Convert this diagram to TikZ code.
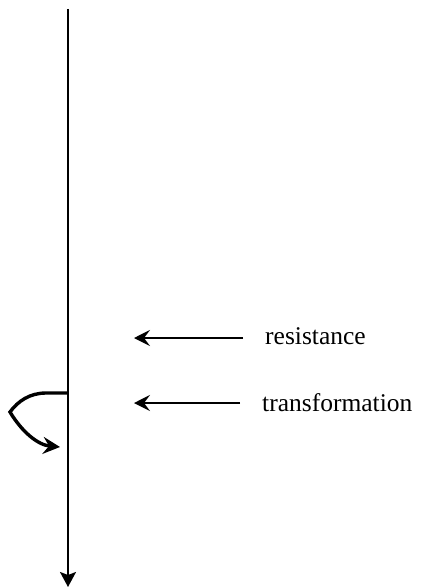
\documentclass[tikz,border=0pt]{standalone}
\usepackage{fontspec}
\setmainfont{Liberation Serif}
\usetikzlibrary{arrows.meta}
\begin{document}
\begin{tikzpicture}[x=1pt,y=-1pt,
  axis/.style={line width=1.9pt,-{Stealth[length=15pt,width=16pt,inset=3pt]}},
  hint/.style={line width=1.8pt,-{Stealth[length=16pt,width=16pt,inset=6pt]}},
  loop/.style={line width=3.4pt,-{Stealth[length=17pt,width=17pt,inset=6pt]}},
  lbl/.style={anchor=base west,inner sep=0pt,font=\fontsize{25.5}{28}\selectfont}]
\useasboundingbox (0,0) rectangle (424,588);
\coordinate (top) at (68,9);
\coordinate (bot) at (68,587);
\draw[axis] (top) -- (bot);
\node[lbl] (res) at (265,344) {resistance};
\node[lbl] (tra) at (262,411) {transformation};
\coordinate (r1) at (243,338);
\coordinate (r2) at (134,338);
\coordinate (t1) at (240,403);
\coordinate (t2) at (134,403);
\draw[hint] (r1) -- (r2);
\draw[hint] (t1) -- (t2);
\coordinate (l0) at (68,393);
\coordinate (l1) at (46,393);
\coordinate (l2) at (10,412);
\coordinate (l3) at (60,447);
\draw[loop] (l0) -- (l1) .. controls (30,393) and (18,401) .. (l2) .. controls (22,432) and (38,445) .. (l3);
\end{tikzpicture}
\end{document}
